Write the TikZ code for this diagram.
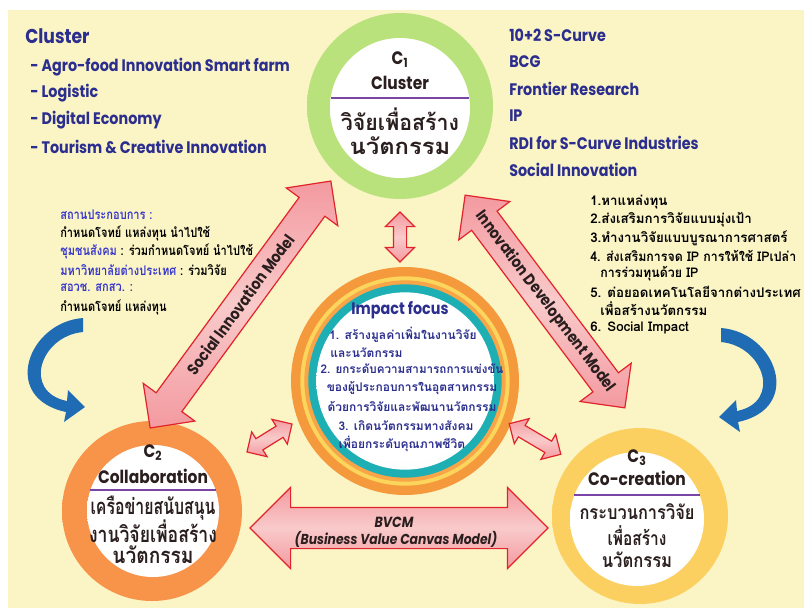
\documentclass[tikz,border=0pt]{standalone}
\usepackage{fontspec}
\usepackage{graphicx}
\usetikzlibrary{shapes.arrows,calc}
\newfontfamily\thaifont[Script=Thai]{Loma}
\newfontfamily\enfont{Poppins}[FakeStretch=0.86]
\newcommand{\sx}[2]{\scalebox{#1}[1]{#2}}
\definecolor{bgy}{HTML}{FBF5C6}
\definecolor{navy}{HTML}{2B2E8E}
\definecolor{lblue}{HTML}{3737CC}
\definecolor{arrfill}{HTML}{F39AA0}
\definecolor{arrmid}{HTML}{F9CACA}
\definecolor{arrdraw}{HTML}{E2232B}
\definecolor{bluearr}{HTML}{1F6CB5}
\definecolor{gA}{HTML}{B9E27C}
\definecolor{gB}{HTML}{52C449}
\definecolor{gC}{HTML}{2BA63C}
\definecolor{oA}{HTML}{F7944A}
\definecolor{oB}{HTML}{EE661C}
\definecolor{oC}{HTML}{F28A44}
\definecolor{yA}{HTML}{FBD061}
\definecolor{yB}{HTML}{F7B425}
\definecolor{yC}{HTML}{FAD46E}
\definecolor{rOut}{HTML}{F59A3C}
\definecolor{rYel}{HTML}{FCD55C}
\definecolor{rOr}{HTML}{F7A548}
\definecolor{rTeal}{HTML}{1DAFB3}
\definecolor{cwhite}{HTML}{E6EEF6}
\definecolor{lineP}{HTML}{7A45A6}
\definecolor{wgrey}{HTML}{D0D0D0}
\definecolor{dtext}{HTML}{2A1E1E}
\pgfdeclareradialshading{greenring}{\pgfpointorigin}{color(0bp)=(gA); color(37bp)=(gA); color(42bp)=(gB); color(48bp)=(gC); color(50bp)=(gC)}
\pgfdeclareradialshading{orangering}{\pgfpointorigin}{color(0bp)=(oA); color(36bp)=(oA); color(41bp)=(oB); color(47bp)=(oB); color(50bp)=(oC)}
\pgfdeclareradialshading{yellowring}{\pgfpointorigin}{color(0bp)=(yA); color(37bp)=(yA); color(42bp)=(yB); color(47bp)=(yB); color(50bp)=(yC)}
\pgfdeclareradialshading{whiteball}{\pgfpoint{-6bp}{8bp}}{color(0bp)=(white); color(28bp)=(white); color(50bp)=(wgrey)}
\pgfdeclareradialshading{centerball}{\pgfpoint{0bp}{6bp}}{color(0bp)=(white); color(25bp)=(white); color(50bp)=(cwhite)}
\begin{document}
\begin{tikzpicture}[x=0.75pt,y=-0.75pt,
  dbl/.style={double arrow, draw=arrdraw, shade, top color=arrfill, bottom color=arrfill, middle color=arrmid, line width=0.9pt, inner xsep=0pt, minimum width=0pt, text height=0pt, text depth=0pt, double arrow tip angle=90},
  bigarr/.style={dbl, inner ysep=11.5pt, double arrow head extend=12pt},
  smallarr/.style={dbl, inner ysep=4.5pt, double arrow head extend=6pt},
  entitle/.style={font=\enfont\bfseries\fontsize{15}{18}\selectfont, text=navy, anchor=west, inner sep=0pt},
  enitem/.style={font=\enfont\bfseries\fontsize{12.5}{15}\selectfont, text=navy, anchor=west, inner sep=0pt},
  thl/.style={font=\thaifont\bfseries\fontsize{10}{12}\selectfont, anchor=west, inner sep=0pt},
  ctitle/.style={font=\enfont\bfseries\fontsize{13.5}{16}\selectfont, text=dtext, inner sep=0pt},
  cthai/.style={font=\thaifont\bfseries\fontsize{16.5}{20}\selectfont, text=dtext, inner sep=0pt},
  cthaiS/.style={font=\thaifont\bfseries\fontsize{14.5}{18}\selectfont, text=dtext, inner sep=0pt},
  imp/.style={font=\thaifont\bfseries\fontsize{9}{11}\selectfont, text=navy, inner sep=0pt},
  arrlbl/.style={font=\enfont\bfseries\fontsize{12}{14}\selectfont, text=dtext, inner sep=0pt},
  cline/.style={lineP, line width=1.2pt},
]
\useasboundingbox (0,0) rectangle (804,608);
\fill[white] (0,0) rectangle (804,608);
\fill[bgy] (8,10) rectangle (804,608);

% blue curved arrows
\fill[bluearr] (83,318) .. controls (28,322) and (0,398) .. (66,412) -- (64,422) -- (85,407) -- (68,390) -- (67,401) .. controls (22,392) and (40,336) .. (83,332) -- cycle;
\fill[bluearr] (721,328) .. controls (776,332) and (804,408) .. (738,422) -- (740,432) -- (719,417) -- (736,400) -- (737,411) .. controls (782,402) and (764,346) .. (721,342) -- cycle;

% C1
\node[circle, inner sep=0pt, shade, shading=greenring, minimum size=139.5pt] (c1) at (400,106) {};
\node[circle, inner sep=0pt, shade, shading=whiteball, minimum size=105pt] (c1in) at (400,108) {};
\node[ctitle] (c1c) at (400,60) {C\textsubscript{1}};
\node[ctitle] (c1n) at (400,83) {Cluster};
\draw[cline] ($(c1in.center)+(-69,-10)$) -- ($(c1in.center)+(69,-10)$);
\node[cthai] (c1t1) at (400,119) {\sx{0.97}{วิจัยเพื่อสร้าง}};
\node[cthai] (c1t2) at (400,146) {\sx{1.08}{นวัตกรรม}};

% C2
\node[circle, inner sep=0pt, shade, shading=orangering, minimum size=135pt] (c2) at (152,511) {};
\node[circle, inner sep=0pt, shade, shading=whiteball, minimum size=99pt] (c2in) at (153,511) {};
\node[ctitle] (c2c) at (153,453) {C\textsubscript{2}};
\node[ctitle] (c2n) at (153,476) {Collaboration};
\draw[cline] ($(c2in.center)+(-63,-21)$) -- ($(c2in.center)+(63,-21)$);
\node[cthai] (c2t1) at (153,508) {\sx{0.72}{เครือข่ายสนับสนุน}};
\node[cthai] (c2t2) at (153,531) {\sx{0.80}{งานวิจัยเพื่อสร้าง}};
\node[cthai] (c2t3) at (153,555) {\sx{0.87}{นวัตกรรม}};

% C3
\node[circle, inner sep=0pt, shade, shading=yellowring, minimum size=132pt] (c3) at (640,516) {};
\node[circle, inner sep=0pt, shade, shading=whiteball, minimum size=100.5pt] (c3in) at (637,519) {};
\node[ctitle] (c3c) at (637,458) {C\textsubscript{3}};
\node[ctitle] (c3n) at (637,478) {Co-creation};
\draw[cline] ($(c3in.center)+(-63,-24)$) -- ($(c3in.center)+(63,-24)$);
\node[cthaiS] (c3t1) at (637,512) {\sx{0.85}{กระบวนการวิจัย}};
\node[cthaiS] (c3t2) at (637,536) {\sx{0.8}{เพื่อสร้าง}};
\node[cthaiS] (c3t3) at (637,560) {\sx{0.86}{นวัตกรรม}};

% centre circle
\node[circle, inner sep=0pt, fill=rOut, minimum size=171pt] (cf) at (405,381) {};
\node[circle, inner sep=0pt, fill=rYel, minimum size=157pt] (cf2) at (405,381) {};
\node[circle, inner sep=0pt, fill=rOr, minimum size=151pt] (cf3) at (405,381) {};
\node[circle, inner sep=0pt, fill=rTeal, minimum size=145pt] (cf4) at (405,381) {};
\node[circle, inner sep=0pt, shade, shading=centerball, minimum size=133pt] (cfin) at (405,381) {};
\node[font=\enfont\bfseries\fontsize{12.5}{15}\selectfont, text=navy, inner sep=0pt] (imt) at (400,310) {Impact focus};
\node[imp] (im1) at (403,335) {1. สร้างมูลค่าเพิ่มในงานวิจัย};
\node[imp, anchor=west] (im2) at (330,353) {และนวัตกรรม};
\node[imp] (im3) at (412,369) {\sx{0.97}{2. ยกระดับความสามารถการแข่งขัน}};
\node[imp] (im4) at (412,388) {ของผู้ประกอบการในอุตสาหกรรม};
\node[imp] (im5) at (412,407) {ด้วยการวิจัยและพัฒนานวัตกรรม};
\node[imp] (im6) at (406,426) {3. เกิดนวัตกรรมทางสังคม};
\node[imp] (im7) at (402,444) {เพื่อยกระดับคุณภาพชีวิต};

% arrows
\node[bigarr, minimum height=229.5pt, rotate=53.8] (asoc) at (240.5,304.5) {};
\node[arrlbl, rotate=53.8] (lsoc) at (asoc.center) {Social Innovation Model};
\node[bigarr, minimum height=199.5pt, rotate=-53.1] (ainn) at (545,301.5) {};
\node[arrlbl, rotate=-53.1] (linn) at (ainn.center) {Innovation Development Model};
\node[dbl, inner ysep=15pt, double arrow head extend=15pt, minimum height=223.5pt] (abv) at (399,528) {};
\node[font=\enfont\bfseries\itshape\fontsize{11}{13}\selectfont, text=dtext, inner sep=0pt] (lbv1) at (394,522) {BVCM};
\node[font=\enfont\bfseries\itshape\fontsize{10.8}{13}\selectfont, text=dtext, inner sep=0pt] (lbv2) at (396,539.5) {(Business Value Canvas Model)};
\node[smallarr, minimum height=37.5pt, rotate=90] (atop) at (400,237) {};
\node[smallarr, minimum height=39.75pt, rotate=31.9] (aleft) at (269.5,438) {};
\node[smallarr, minimum height=45pt, rotate=-30.6] (aright) at (535,439) {};

% top-left text
\node[entitle] (cl) at (25,36) {Cluster};
\node[enitem] (i1) at (30,67) {- Agro-food Innovation Smart farm};
\node[enitem] (i2) at (30,93) {- Logistic};
\node[enitem] (i3) at (30,120) {- Digital Economy};
\node[enitem] (i4) at (30,147) {- Tourism \& Creative Innovation};

% top-right text
\node[enitem] (r1) at (509,35) {10+2 S-Curve};
\node[enitem] (r2) at (509,62) {BCG};
\node[enitem] (r3) at (509,88.5) {Frontier Research};
\node[enitem] (r4) at (509,116) {IP};
\node[enitem] (r5) at (509,143) {RDI for S-Curve Industries};
\node[enitem] (r6) at (509,170) {Social Innovation};

% left-middle text
\node[thl, text=lblue] (l1) at (60,215) {\sx{0.83}{สถานประกอบการ :}};
\node[thl] (l2) at (60,233) {\sx{0.83}{กำหนดโจทย์ แหล่งทุน นำไปใช้}};
\node[thl] (l3) at (60,251) {\sx{0.83}{\textcolor{lblue}{ชุมชนสังคม} : ร่วมกำหนดโจทย์ นำไปใช้}};
\node[thl] (l4) at (60,270) {\sx{0.83}{\textcolor{lblue}{มหาวิทยาลัยต่างประเทศ} : ร่วมวิจัย}};
\node[thl, text=lblue] (l5) at (60,288) {\sx{0.83}{สอวช. สกสว. :}};
\node[thl] (l6) at (60,307) {\sx{0.83}{กำหนดโจทย์ แหล่งทุน}};

% right list
\node[thl] (n1) at (590,202) {1.หาแหล่งทุน};
\node[thl] (n2) at (590,220) {2.ส่งเสริมการวิจัยแบบมุ่งเป้า};
\node[thl] (n3) at (590,238) {3.ทำงานวิจัยแบบบูรณาการศาสตร์};
\node[thl] (n4) at (590,256) {\sx{0.93}{4. ส่งเสริมการจด IP การให้ใช้ IPเปล่า}};
\node[thl] (n4b) at (600,274) {\sx{0.93}{การร่วมทุนด้วย IP}};
\node[thl] (n5) at (590,292) {5. ต่อยอดเทคโนโลยีจากต่างประเทศ};
\node[thl] (n5b) at (600,309) {เพื่อสร้างนวัตกรรม};
\node[thl] (n6) at (590,328) {6. Social Impact};
\end{tikzpicture}
\end{document}
